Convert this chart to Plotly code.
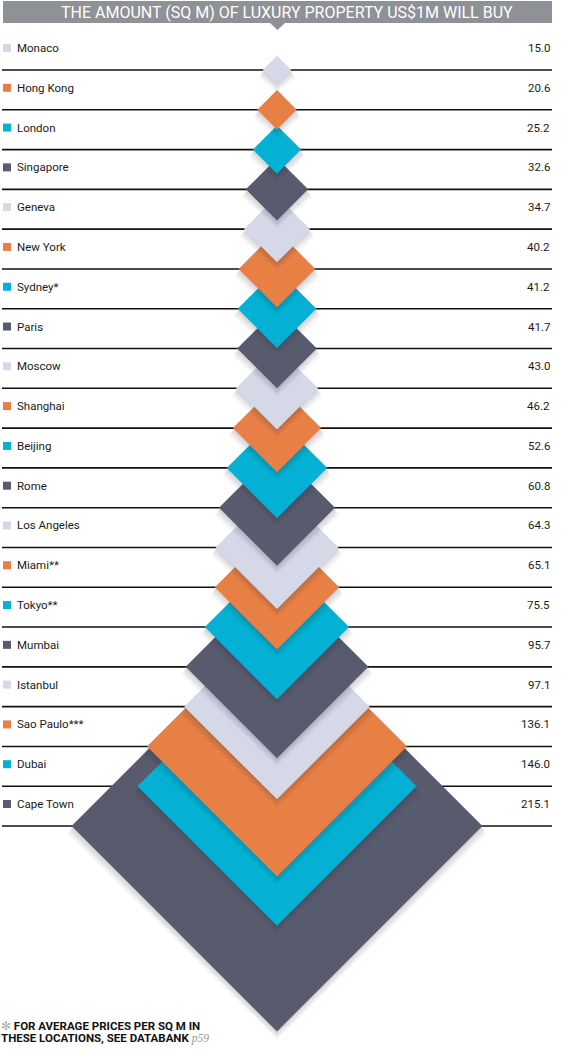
import plotly.graph_objects as go

# data
cities = ["Monaco", "Hong Kong", "London", "Singapore", "Geneva", "New York",
          "Sydney*", "Paris", "Moscow", "Shanghai", "Beijing", "Rome",
          "Los Angeles", "Miami**", "Tokyo**", "Mumbai", "Istanbul",
          "Sao Paulo***", "Dubai", "Cape Town"]
sq_m = [15.0, 20.6, 25.2, 32.6, 34.7, 40.2, 41.2, 41.7, 43.0, 46.2, 52.6,
        60.8, 64.3, 65.1, 75.5, 95.7, 97.1, 136.1, 146.0, 215.1]
palette = ["#d5d8e7", "#e87f45", "#04b0d3", "#585a6e"]
colors = [palette[i % 4] for i in range(len(cities))]

title = "THE AMOUNT (SQ M) OF LUXURY PROPERTY US$1M WILL BUY"

# page geometry (pixels)
W, H = 562, 1055
k = 0.955            # px per sq m (half diagonal)
cx = 277             # diamond centre x
first_line = 70
row_px = 39.79
step = row_px / k    # row spacing in axis units

row_y = [-i * step for i in range(len(cities))]
label_y = [y + 22 / k for y in row_y]

fig = go.Figure()

# separator lines under each row
for y in row_y:
    fig.add_shape(type="line", xref="paper", yref="y", x0=2 / W, x1=552 / W,
                  y0=y, y1=y, line=dict(color="#111111", width=1.6), layer="below")

# diamonds, biggest first so smaller ones sit on top
for i in reversed(range(len(cities))):
    v = sq_m[i]
    y = row_y[i]
    # soft shadow
    for off, a in [(8, 0.04), (6, 0.05), (4, 0.05), (2, 0.06)]:
        d = off / k
        fig.add_trace(go.Scatter(
            x=[0, v + d * 0.5, 0, -v - d * 0.5, 0],
            y=[y + v - d * 0.2, y - d, y - v - d, y - d, y + v - d * 0.2],
            mode="lines", fill="toself", fillcolor=f"rgba(40,40,60,{a})",
            line=dict(width=0), hoverinfo="skip", showlegend=False))
    fig.add_trace(go.Scatter(
        x=[0, v, 0, -v, 0], y=[y + v, y, y - v, y, y + v],
        mode="lines", fill="toself", fillcolor=colors[i],
        line=dict(width=0), name=cities[i], showlegend=False,
        hovertemplate=f"{cities[i]}: {v:.1f}<extra></extra>"))

# colour key squares
fig.add_trace(go.Scatter(
    x=[(7 - cx) / k] * len(cities), y=label_y, mode="markers",
    marker=dict(symbol="square", size=8, color=colors, line=dict(width=0)),
    hoverinfo="skip", showlegend=False))

for i, c in enumerate(cities):
    fig.add_annotation(x=15 / W, xref="paper", y=label_y[i], yref="y",
                       text=c, showarrow=False, xanchor="left", yanchor="middle",
                       font=dict(family="Roboto", size=11.5, color="#1a1a1a"))
    fig.add_annotation(x=552 / W, xref="paper", y=label_y[i], yref="y",
                       text=f"{sq_m[i]:.1f}", showarrow=False, xanchor="right",
                       yanchor="middle",
                       font=dict(family="Roboto", size=11.5, color="#1a1a1a"))

# title bar with pointer
fig.add_shape(type="rect", xref="paper", yref="paper", x0=3 / W, x1=552 / W,
              y0=1 - 23 / H, y1=1 - 1 / H, fillcolor="#8e9196", line=dict(width=0))
fig.add_shape(type="path", xref="paper", yref="paper",
              path=f"M {270 / W} {1 - 23 / H} L {285 / W} {1 - 23 / H} "
                   f"L {277.5 / W} {1 - 30 / H} Z",
              fillcolor="#8e9196", line=dict(width=0))
fig.add_annotation(x=287 / W, xref="paper", y=1 - 12 / H, yref="paper",
                   text=title, showarrow=False, xanchor="center", yanchor="middle",
                   font=dict(family="Roboto", size=16, color="white"))

# footnote (two tight lines)
foot_font = dict(family="Roboto", size=11.5, color="#111111")
fig.add_annotation(
    x=0, xref="paper", y=1 - 1026 / H, yref="paper", showarrow=False,
    xanchor="left", yanchor="middle", align="left", borderpad=0,
    text="<span style='color:#aaaaaa'>✻</span> <b>FOR AVERAGE PRICES PER SQ M IN</b>",
    font=foot_font)
fig.add_annotation(
    x=0, xref="paper", y=1 - 1037.5 / H, yref="paper", showarrow=False,
    xanchor="left", yanchor="middle", align="left", borderpad=0,
    text="<b>THESE LOCATIONS, SEE DATABANK</b> "
         "<i><span style='color:#9a9a9a;font-family:Liberation Serif'>p59</span></i>",
    font=foot_font)

fig.update_xaxes(range=[-cx / k, (W - cx) / k], visible=False, fixedrange=True)
fig.update_yaxes(range=[-(H - first_line) / k, first_line / k], visible=False,
                 fixedrange=True)
fig.update_layout(width=W, height=H, margin=dict(l=0, r=0, t=0, b=0),
                  plot_bgcolor="white", paper_bgcolor="white")

fig.write_html("out.html", config={"displayModeBar": False},
               post_script="document.body.style.margin='0';")
